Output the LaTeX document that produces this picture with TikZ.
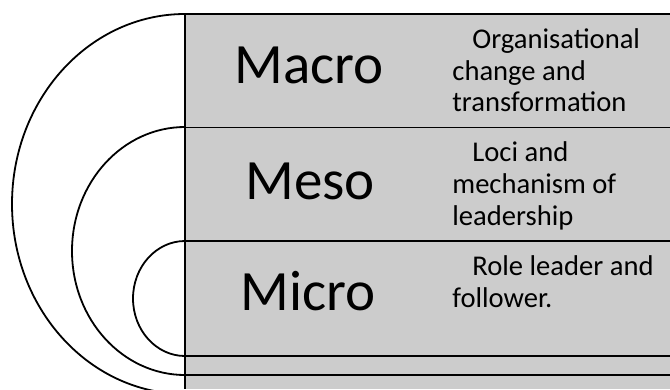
\documentclass[tikz,border=0pt]{standalone}
\usepackage{fontspec}
\setmainfont{Carlito}
\usepackage{tikz}
\definecolor{bandgray}{RGB}{204,204,204}

\begin{document}
\begin{tikzpicture}[x=1pt, y=-1pt, line width=1.8pt,
        level/.style={anchor=base, inner sep=0pt,
            font=\fontsize{57}{68}\selectfont},
        remark/.style={anchor=north west, inner sep=0pt, align=left,
            font=\fontsize{28.6}{31.7}\selectfont}]
    \useasboundingbox (0,0) rectangle (670,389);
    \begin{scope}
        \clip (0,0) rectangle (185,389);
        \draw (185,204) ellipse [x radius=173, y radius=190];
        \draw (185,251) ellipse [x radius=113, y radius=124];
        \draw (185,298.5) ellipse [x radius=52, y radius=57.5];
    \end{scope}
    \fill[bandgray] (185,14) rectangle (670,389);
    \foreach \y in {14,127.5,241,356,375}
        \draw (185,\y) -- (670,\y);
    \draw (185,14) -- (185,389);

    \node [level] (macro) at (309,83) {Macro};
    \node [level] (meso) at (310,199) {Meso};
    \node [level] (micro) at (308,310) {Micro};

    \node [remark] (macrotext) at (451.5,25.3)
        {\strut\hspace*{20pt}Organisational\\change and\\transformation};
    \node [remark] (mesotext) at (451.5,138.8)
        {\strut\hspace*{20pt}Loci and\\mechanism of\\leadership};
    \node [remark] (microtext) at (451.5,252.3)
        {\strut\hspace*{20pt}Role leader and\\follower.};
\end{tikzpicture}
\end{document}
